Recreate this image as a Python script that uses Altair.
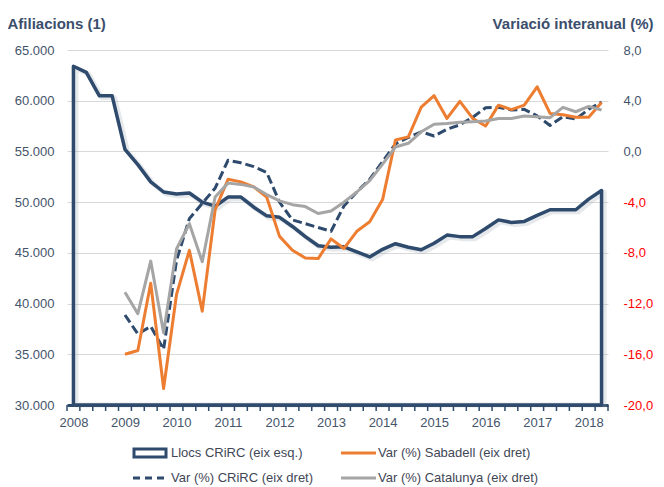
import altair as alt
import pandas as pd

# ---------------- data (quarterly, 2008 T1 .. 2018 T2) ----------------
quarters = [f"{2008 + k // 4}T{k % 4 + 1}" for k in range(42)]

llocs = [63400, 62800, 60500, 60500, 55200, 53700, 52000, 51000, 50800, 50900,
         50000, 49600, 50500, 50500, 49500, 48650, 48500, 47600, 46600, 45700,
         45550, 45600, 45100, 44600, 45350, 45900, 45550, 45300, 45950, 46750,
         46600, 46600, 47400, 48250, 48000, 48100, 48700, 49250, 49250, 49250,
         50300, 51150]

# variations start at 2009 T1
var_sabadell = [-16.0, -15.7, -10.4, -18.7, -11.3, -7.8, -12.6, -4.6, -2.2, -2.4,
                -2.8, -3.6, -6.7, -7.8, -8.4, -8.45, -6.9, -7.65, -6.3, -5.55,
                -3.8, 0.9, 1.15, 3.5, 4.4, 2.6, 3.95, 2.6, 2.0, 3.65,
                3.3, 3.65, 5.1, 3.0, 2.9, 2.7, 2.7, 3.85]
var_crirc = [-12.9, -14.4, -13.8, -15.6, -8.6, -5.3, -4.1, -2.9, -0.7, -0.9,
             -1.2, -1.65, -4.0, -5.4, -5.7, -6.0, -6.3, -4.3, -3.2, -2.2,
             -0.8, 0.6, 1.1, 1.55, 1.22, 1.75, 2.1, 2.7, 3.45, 3.48,
             3.27, 3.32, 2.8, 2.05, 2.74, 2.55, 3.33, 3.9]
var_catalunya = [-11.1, -12.8, -8.65, -14.3, -7.7, -5.7, -8.7, -3.6, -2.5, -2.6,
                 -2.8, -3.4, -3.9, -4.2, -4.35, -4.9, -4.7, -4.0, -3.2, -2.3,
                 -1.0, 0.35, 0.64, 1.55, 2.15, 2.2, 2.3, 2.35, 2.4, 2.6,
                 2.6, 2.8, 2.74, 2.66, 3.48, 3.13, 3.55, 3.27]

year_tick_index = [0, 4, 8, 12, 16, 20, 24, 28, 32, 36, 40]
left_ticks = [30000, 35000, 40000, 45000, 50000, 55000, 60000, 65000]
right_ticks = [-20, -16, -12, -8, -4, 0, 4, 8]
legend_labels = ["Llocs CRiRC (eix esq.)", "Var (%) Sabadell (eix dret)",
                 "Var (%) CRiRC (eix dret)", "Var (%) Catalunya (eix dret)"]

NAVY = "#2E4A6C"
ORANGE = "#ED7D31"
GRAY = "#A5A5A5"
TXT = "#44546A"
TITLE = "#3B4E6B"
LEG = "#3F4756"

n = len(llocs)
start = n - len(var_sabadell)
df_llocs = pd.DataFrame({"q": list(range(n)), "quarter": quarters, "llocs": llocs})
df_var = pd.DataFrame({"q": list(range(start, n)), "sab": var_sabadell,
                       "crirc": var_crirc, "cat": var_catalunya})
df_bounds = pd.DataFrame({"b": [k - 0.5 for k in range(n + 1)]})

x_scale = alt.Scale(domain=[-0.5, n - 0.5], nice=False, zero=False)
x_axis = alt.Axis(values=year_tick_index, labelExpr="2008 + datum.value / 4",
                  ticks=False, grid=False, domainColor=NAVY, domainWidth=3,
                  labelPadding=11, labelFontSize=13, labelColor=TXT,
                  labelOverlap=False, title=None)

y_left = alt.Y("llocs:Q",
               scale=alt.Scale(domain=[30000, 65000], nice=False, zero=False),
               axis=alt.Axis(values=left_ticks,
                             labelExpr="replace(format(datum.value, ','), ',', '.')",
                             ticks=False, domain=False, grid=True,
                             gridColor="#D9D9D9", gridWidth=1,
                             labelPadding=13, labelFontSize=13, labelColor=TXT,
                             title="Afiliacions (1)", titleAngle=0,
                             titleAlign="left", titleBaseline="middle",
                             titleX=-60, titleY=-27, titleFontSize=15,
                             titleFontWeight="bold", titleColor=TITLE))

y_right_scale = alt.Scale(domain=[-20, 8], nice=False, zero=False)
y_right_axis = alt.Axis(orient="right", values=right_ticks,
                        labelExpr="(datum.value < 0 ? '-' : '') + replace(format(abs(datum.value), '.1f'), '.', ',')",
                        labelColor={"condition": {"test": "datum.value < 0", "value": "#FF0000"},
                                    "value": TXT},
                        ticks=False, domain=False, grid=False,
                        labelPadding=15, labelFontSize=13,
                        title="Variació interanual (%)", titleAngle=0,
                        titleAlign="right", titleBaseline="middle",
                        titleX=45, titleY=-27, titleFontSize=15,
                        titleFontWeight="bold", titleColor=TITLE)

# soft drop shadow like the original (Excel effect)
area_shadow = alt.Chart(df_llocs).mark_area(
    fillOpacity=0, stroke="#9AA6B4", strokeOpacity=0.25, strokeWidth=5,
    strokeJoin="round", xOffset=2.5, yOffset=2
).encode(
    x=alt.X("q:Q", scale=x_scale, axis=x_axis),
    y=y_left,
    y2=alt.datum(30000),
)

area = alt.Chart(df_llocs).mark_area(
    fillOpacity=0, stroke=NAVY, strokeWidth=3.5, strokeJoin="round"
).encode(
    x=alt.X("q:Q", scale=x_scale, axis=x_axis),
    y=y_left,
    y2=alt.datum(30000),
)

llocs_layer = alt.layer(area_shadow, area)


def var_line(field, color, dash=None):
    kw = dict(color=color, strokeWidth=3, strokeJoin="round")
    if dash:
        kw["strokeDash"] = dash
    return alt.Chart(df_var).mark_line(**kw).encode(
        x=alt.X("q:Q", scale=x_scale, axis=x_axis),
        y=alt.Y(f"{field}:Q", scale=y_right_scale, axis=y_right_axis),
    )


lines = alt.layer(
    var_line("crirc", NAVY, [9, 4]),
    var_line("sab", ORANGE),
    var_line("cat", GRAY),
)

tick_rules = alt.Chart(df_bounds).mark_rule(color=NAVY, strokeWidth=1.5).encode(
    x=alt.X("b:Q", scale=x_scale, axis=x_axis),
    y=alt.value(355), y2=alt.value(361),
)

one = alt.Data(values=[{"k": 0}])
leg_rect = alt.Chart(one).mark_rect(fill="white", stroke=NAVY, strokeWidth=3).encode(
    x=alt.value(67), x2=alt.value(99), y=alt.value(399), y2=alt.value(407))
leg_orange = alt.Chart(one).mark_rule(color=ORANGE, strokeWidth=3).encode(
    x=alt.value(274), x2=alt.value(309), y=alt.value(403))
leg_dash = alt.Chart(one).mark_rule(color=NAVY, strokeWidth=3, strokeDash=[7, 5]).encode(
    x=alt.value(66), x2=alt.value(99), y=alt.value(428))
leg_gray = alt.Chart(one).mark_rule(color=GRAY, strokeWidth=3).encode(
    x=alt.value(274), x2=alt.value(309), y=alt.value(428))


def leg_text(label, x, y):
    return alt.Chart(one).mark_text(align="left", baseline="middle", fontSize=13,
                                    color=LEG).encode(
        x=alt.value(x), y=alt.value(y), text=alt.value(label))


legend_layers = [leg_rect, leg_orange, leg_dash, leg_gray,
                 leg_text(legend_labels[0], 104, 403),
                 leg_text(legend_labels[1], 311, 403),
                 leg_text(legend_labels[2], 104, 428),
                 leg_text(legend_labels[3], 311, 428)]

chart = alt.layer(llocs_layer, lines, tick_rules, *legend_layers).resolve_scale(
    y="independent"
).properties(
    width=541, height=355,
    autosize=alt.AutoSizeParams(type="none"),
    padding={"left": 59, "top": 42, "right": 48, "bottom": 82},
    background="white",
).configure(font="Liberation Sans").configure_view(stroke="transparent")

chart.save("out.html", embed_options={"renderer": "svg", "actions": False})
